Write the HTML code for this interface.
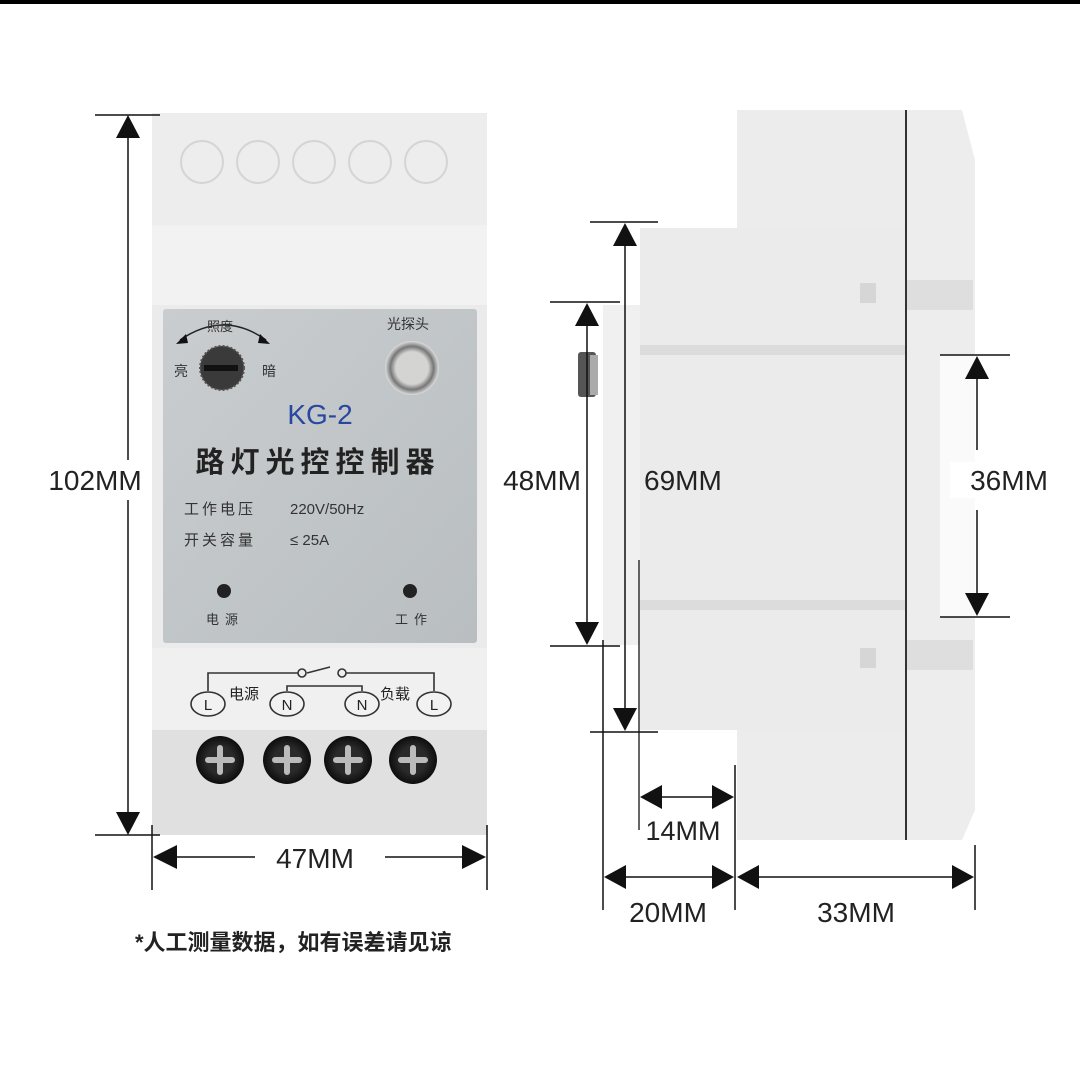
<!DOCTYPE html>
<html><head><meta charset="utf-8"><style>
html,body{margin:0;padding:0;background:#fff;}
svg{display:block;}
text{font-family:"Liberation Sans","Noto Sans CJK SC",sans-serif;}
</style></head><body>
<svg width="1080" height="1084" viewBox="0 0 1080 1084" xmlns="http://www.w3.org/2000/svg">
<defs>
<linearGradient id="pnl" x1="0" y1="0" x2="1" y2="1"><stop offset="0" stop-color="#c9cdcf"/><stop offset="1" stop-color="#b9bec0"/></linearGradient>
<radialGradient id="scr" cx="0.5" cy="0.5" r="0.5"><stop offset="0.55" stop-color="#2a2a2a"/><stop offset="1" stop-color="#0d0d0d"/></radialGradient>
<radialGradient id="sen" cx="0.5" cy="0.5" r="0.5"><stop offset="0.6" stop-color="#d4d4d2"/><stop offset="0.8" stop-color="#777"/><stop offset="1" stop-color="#ddd"/></radialGradient>
</defs>
<rect width="1080" height="1084" fill="#fff"/>
<rect width="1080" height="4" fill="#000"/>

<!-- FRONT DEVICE -->
<rect x="152" y="113" width="335" height="722" fill="#ebebeb"/>
<rect x="152" y="113" width="335" height="112" fill="#ededed"/>
<g fill="none" stroke="#d4d4d4" stroke-width="2">
<circle cx="202" cy="162" r="21"/><circle cx="258" cy="162" r="21"/><circle cx="314" cy="162" r="21"/><circle cx="370" cy="162" r="21"/><circle cx="426" cy="162" r="21"/>
</g>
<rect x="152" y="225" width="335" height="80" fill="#f2f2f2"/>
<rect x="152" y="648" width="335" height="85" fill="#f0f0f0"/>
<rect x="152" y="730" width="335" height="105" fill="#e0e0e0"/>
<rect x="163" y="309" width="314" height="334" rx="3" fill="url(#pnl)"/>

<!-- knob -->
<path d="M180 340 Q224 310 266 340" fill="none" stroke="#222" stroke-width="1.5"/>
<polygon points="176,344 186,334 188,343" fill="#111"/>
<polygon points="270,344 260,334 258,343" fill="#111"/>
<text x="207" y="331" font-size="13" fill="#333">照度</text>
<text x="174" y="376" font-size="14" fill="#333">亮</text>
<text x="262" y="376" font-size="14" fill="#333">暗</text>
<circle cx="222" cy="368" r="22" fill="#3a3a3a" stroke="#555" stroke-width="2" stroke-dasharray="2 2"/>
<rect x="204" y="365" width="34" height="6" fill="#111"/>
<!-- sensor -->
<text x="387" y="329" font-size="14" fill="#333">光探头</text>
<circle cx="412" cy="368" r="27" fill="url(#sen)"/>
<text x="320" y="424" font-size="28" fill="#2847a0" text-anchor="middle">KG-2</text>
<text x="318" y="472" font-size="29" font-weight="bold" fill="#222" text-anchor="middle" letter-spacing="6">路灯光控控制器</text>
<text x="184" y="514" font-size="15" fill="#333" letter-spacing="3">工作电压</text>
<text x="290" y="514" font-size="15" fill="#333">220V/50Hz</text>
<text x="184" y="545" font-size="15" fill="#333" letter-spacing="3">开关容量</text>
<text x="290" y="545" font-size="15" fill="#333">≤ 25A</text>
<circle cx="224" cy="591" r="7" fill="#222"/>
<circle cx="410" cy="591" r="7" fill="#222"/>
<text x="206" y="624" font-size="13" fill="#333" letter-spacing="6">电源</text>
<text x="395" y="624" font-size="13" fill="#333" letter-spacing="6">工作</text>

<!-- wiring labels -->
<g fill="none" stroke="#333" stroke-width="1.6">
<polyline points="208,691 208,673 298,673"/>
<polyline points="346,673 434,673 434,691"/>
<line x1="307" y1="673" x2="330" y2="667"/>
<polyline points="287,691 287,686 362,686 362,691"/>
<circle cx="302" cy="673" r="4" fill="#eee"/><circle cx="342" cy="673" r="4" fill="#eee"/>
<ellipse cx="208" cy="704" rx="17" ry="12" fill="#f2f2f2"/>
<ellipse cx="287" cy="704" rx="17" ry="12" fill="#f2f2f2"/>
<ellipse cx="362" cy="704" rx="17" ry="12" fill="#f2f2f2"/>
<ellipse cx="434" cy="704" rx="17" ry="12" fill="#f2f2f2"/>
</g>
<g font-size="15" fill="#222" text-anchor="middle">
<text x="208" y="710">L</text><text x="287" y="710">N</text><text x="362" y="710">N</text><text x="434" y="710">L</text>
</g>
<text x="229" y="699" font-size="15" fill="#222">电源</text>
<text x="380" y="699" font-size="15" fill="#222">负载</text>
<!-- screws -->
<g>
<circle cx="220" cy="760" r="24" fill="url(#scr)"/><circle cx="287" cy="760" r="24" fill="url(#scr)"/><circle cx="348" cy="760" r="24" fill="url(#scr)"/><circle cx="413" cy="760" r="24" fill="url(#scr)"/>
</g>
<g stroke="#bbb" stroke-width="6" stroke-linecap="round">
<path d="M208 760h24M220 748v24"/><path d="M275 760h24M287 748v24"/><path d="M336 760h24M348 748v24"/><path d="M401 760h24M413 748v24"/>
</g>

<!-- 102MM -->
<g stroke="#111" stroke-width="1.5">
<line x1="95" y1="115" x2="160" y2="115"/><line x1="95" y1="835" x2="160" y2="835"/>
<line x1="128" y1="130" x2="128" y2="820"/>
<line x1="152" y1="825" x2="152" y2="890"/><line x1="487" y1="825" x2="487" y2="890"/>
</g>
<polygon points="128,115 116,138 140,138" fill="#111"/>
<polygon points="128,835 116,812 140,812" fill="#111"/>
<rect x="40" y="460" width="110" height="40" fill="#fff"/>
<text x="95" y="490" font-size="28" fill="#222" text-anchor="middle">102MM</text>
<!-- 47MM -->
<line x1="160" y1="857" x2="255" y2="857" stroke="#111" stroke-width="1.5"/>
<line x1="385" y1="857" x2="480" y2="857" stroke="#111" stroke-width="1.5"/>
<polygon points="153,857 177,845 177,869" fill="#111"/>
<polygon points="486,857 462,845 462,869" fill="#111"/>
<text x="315" y="868" font-size="28" fill="#222" text-anchor="middle">47MM</text>
<text x="135" y="950" font-size="22" font-weight="bold" fill="#222">*人工测量数据，如有误差请见谅</text>

<!-- SIDE VIEW -->
<rect x="737" y="110" width="168" height="730" fill="#ececec"/>
<rect x="640" y="228" width="265" height="502" fill="#ebebeb"/>
<rect x="640" y="345" width="265" height="10" fill="#dcdcdc"/>
<rect x="640" y="600" width="265" height="10" fill="#dcdcdc"/>
<rect x="603" y="305" width="37" height="340" fill="#f0f0f0"/>
<rect x="578" y="352" width="18" height="45" rx="3" fill="#555"/>
<rect x="590" y="355" width="8" height="40" fill="#aaa"/>
<path d="M905 110 L962 110 L975 160 L975 810 L962 840 L905 840 Z" fill="#ededed"/>
<rect x="905" y="280" width="68" height="30" fill="#dedede"/>
<rect x="905" y="640" width="68" height="30" fill="#dedede"/>
<rect x="940" y="355" width="35" height="262" fill="#fafafa"/>
<line x1="906" y1="110" x2="906" y2="840" stroke="#333" stroke-width="2"/>
<rect x="860" y="283" width="16" height="20" fill="#d6d6d6"/>
<rect x="860" y="648" width="16" height="20" fill="#d6d6d6"/>
<line x1="639" y1="560" x2="639" y2="830" stroke="#333" stroke-width="1.5"/>

<g stroke="#111" stroke-width="1.5">
<line x1="590" y1="222" x2="658" y2="222"/><line x1="590" y1="732" x2="658" y2="732"/>
<line x1="625" y1="240" x2="625" y2="715"/>
<line x1="550" y1="302" x2="620" y2="302"/><line x1="550" y1="646" x2="620" y2="646"/>
<line x1="587" y1="320" x2="587" y2="628"/>
<line x1="603" y1="640" x2="603" y2="910"/>
<line x1="735" y1="765" x2="735" y2="910"/>
<line x1="975" y1="845" x2="975" y2="910"/>
<line x1="940" y1="355" x2="1010" y2="355"/><line x1="940" y1="617" x2="1010" y2="617"/>
<line x1="977" y1="375" x2="977" y2="450"/><line x1="977" y1="510" x2="977" y2="600"/>
<line x1="655" y1="797" x2="720" y2="797"/>
<line x1="620" y1="877" x2="720" y2="877"/>
<line x1="750" y1="877" x2="960" y2="877"/>
</g>
<g fill="#111">
<polygon points="625,223 613,246 637,246"/><polygon points="625,731 613,708 637,708"/>
<polygon points="587,303 575,326 599,326"/><polygon points="587,645 575,622 599,622"/>
<polygon points="977,356 965,379 989,379"/><polygon points="977,616 965,593 989,593"/>
<polygon points="640,797 662,785 662,809"/><polygon points="734,797 712,785 712,809"/>
<polygon points="604,877 626,865 626,889"/><polygon points="734,877 712,865 712,889"/>
<polygon points="737,877 759,865 759,889"/><polygon points="974,877 952,865 952,889"/>
</g>
<rect x="498" y="462" width="86" height="36" fill="#fff"/>
<text x="542" y="490" font-size="28" fill="#222" text-anchor="middle">48MM</text>
<text x="644" y="490" font-size="28" fill="#222">69MM</text>
<rect x="950" y="462" width="125" height="36" fill="#fff"/>
<text x="1009" y="490" font-size="28" fill="#222" text-anchor="middle">36MM</text>
<text x="683" y="840" font-size="27" fill="#222" text-anchor="middle">14MM</text>
<text x="668" y="922" font-size="28" fill="#222" text-anchor="middle">20MM</text>
<text x="856" y="922" font-size="28" fill="#222" text-anchor="middle">33MM</text>
</svg>
</body></html>
